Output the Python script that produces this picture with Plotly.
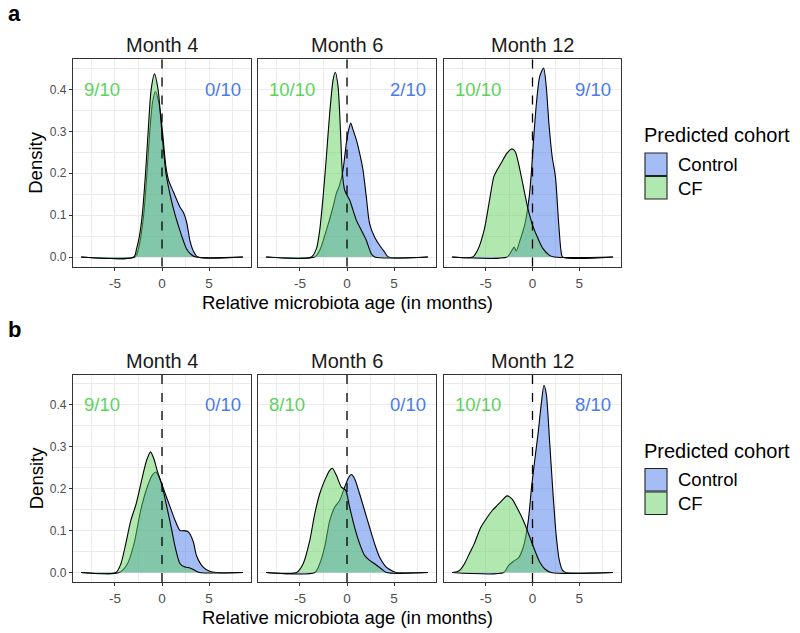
import plotly.graph_objects as go

# ---------------- data ----------------
months = ["Month 4", "Month 6", "Month 12"]
rows = ["a", "b"]
ref_x = 0

cf_counts_a = ["9/10", "10/10", "10/10"]
ctrl_counts_a = ["0/10", "2/10", "9/10"]
cf_counts_b = ["9/10", "8/10", "10/10"]
ctrl_counts_b = ["0/10", "0/10", "8/10"]

# Row a, Month 4
a_m4_ctrl_x = [-8.6, -2.9, -2.5, -1.95, -1.6, -1.3, -1.0, -0.7, -0.35, 0, 0.42, 0.7, 1.22, 1.92, 2.27, 2.62, 2.97, 3.32, 3.8, 8.6]
a_m4_ctrl_y = [0, 0, 0.02, 0.1, 0.2, 0.3, 0.37, 0.395, 0.37, 0.31, 0.215, 0.183, 0.155, 0.119, 0.107, 0.083, 0.039, 0.015, 0, 0]
a_m4_cf_x = [-8.6, -3.0, -2.7, -2.4, -2.1, -1.75, -1.47, -1.15, -0.8, -0.42, 0, 0.42, 0.9, 1.4, 2.1, 2.6, 3.1, 3.6, 8.6]
a_m4_cf_y = [0, 0, 0.02, 0.05, 0.1, 0.2, 0.3, 0.4, 0.437, 0.4, 0.295, 0.2, 0.145, 0.1, 0.05, 0.02, 0.006, 0, 0]

# Row a, Month 6
a_m6_ctrl_x = [-8.6, -3.43, -2.9, -2.19, -1.48, -1.13, -0.78, -0.42, -0.07, 0.18, 0.39, 0.64, 0.99, 1.34, 1.7, 2.05, 2.4, 2.93, 3.46, 3.99, 4.4, 8.6]
a_m6_ctrl_y = [0, 0, 0.016, 0.064, 0.12, 0.152, 0.172, 0.208, 0.272, 0.304, 0.32, 0.304, 0.28, 0.248, 0.208, 0.144, 0.08, 0.048, 0.028, 0.012, 0, 0]
a_m6_cf_x = [-8.6, -3.78, -3.25, -2.9, -2.54, -2.19, -1.84, -1.48, -1.24, -0.95, -0.7, -0.49, -0.25, 0.28, 0.64, 0.99, 1.52, 2.05, 2.58, 2.95, 8.6]
a_m6_cf_y = [0, 0, 0.02, 0.064, 0.144, 0.24, 0.343, 0.423, 0.441, 0.407, 0.304, 0.2, 0.16, 0.136, 0.112, 0.088, 0.064, 0.04, 0.008, 0, 0]

# Row a, Month 12
a_m12_ctrl_x = [-8.6, -2.73, -2.2, -1.96, -1.75, -1.33, -0.8, -0.35, -0.1, 0.14, 0.42, 0.77, 1.19, 1.47, 1.75, 2.1, 2.45, 2.8, 3.04, 3.22, 8.6]
a_m12_ctrl_y = [0, 0, 0.016, 0.024, 0.014, 0.04, 0.08, 0.144, 0.208, 0.288, 0.367, 0.431, 0.451, 0.407, 0.32, 0.24, 0.192, 0.08, 0.016, 0, 0]
a_m12_cf_x = [-8.6, -6.4, -5.87, -5.17, -4.65, -4.13, -3.78, -3.25, -2.73, -2.2, -1.85, -1.5, -0.98, -0.45, 0.07, 0.59, 1.12, 1.82, 2.34, 8.6]
a_m12_cf_y = [0, 0, 0.016, 0.064, 0.128, 0.192, 0.208, 0.228, 0.248, 0.258, 0.252, 0.224, 0.168, 0.112, 0.072, 0.044, 0.02, 0.004, 0, 0]

# Row b, Month 4
b_m4_ctrl_x = [-8.6, -4.55, -3.67, -2.97, -2.27, -1.57, -1.05, -0.63, -0.17, 0.35, 0.87, 1.4, 1.92, 2.35, 2.8, 3.32, 3.67, 4.37, 5.07, 5.77, 8.6]
b_m4_ctrl_y = [0, 0, 0.021, 0.069, 0.148, 0.204, 0.232, 0.24, 0.22, 0.188, 0.156, 0.124, 0.1, 0.1, 0.097, 0.074, 0.04, 0.013, 0.003, 0, 0]
b_m4_cf_x = [-8.6, -4.9, -4.37, -3.85, -3.32, -2.8, -2.45, -1.92, -1.57, -1.22, -0.87, -0.52, 0, 0.52, 1.05, 1.4, 1.92, 2.45, 2.97, 3.5, 4.0, 8.6]
b_m4_cf_y = [0, 0, 0.021, 0.069, 0.124, 0.16, 0.192, 0.244, 0.272, 0.288, 0.272, 0.244, 0.208, 0.156, 0.1, 0.061, 0.021, 0.013, 0.011, 0.005, 0, 0]

# Row b, Month 6
b_m6_ctrl_x = [-8.6, -3.43, -2.9, -2.37, -1.84, -1.31, -0.78, -0.25, 0.11, 0.46, 0.81, 1.34, 1.87, 2.4, 2.93, 3.46, 4.17, 4.88, 5.23, 8.6]
b_m6_ctrl_y = [0, 0, 0.021, 0.061, 0.124, 0.156, 0.172, 0.204, 0.224, 0.234, 0.224, 0.188, 0.148, 0.108, 0.069, 0.037, 0.013, 0.003, 0, 0]
b_m6_cf_x = [-8.6, -5.37, -4.66, -3.96, -3.43, -2.9, -2.37, -1.84, -1.55, -1.13, -0.6, -0.14, 0.28, 0.81, 1.34, 1.87, 2.4, 2.93, 3.64, 4.17, 8.6]
b_m6_cf_y = [0, 0, 0.021, 0.076, 0.14, 0.188, 0.22, 0.244, 0.249, 0.232, 0.204, 0.196, 0.156, 0.108, 0.069, 0.041, 0.029, 0.021, 0.009, 0, 0]

# Row b, Month 12
b_m12_ctrl_x = [-8.6, -3.08, -2.55, -2.03, -1.5, -0.98, -0.45, -0.1, 0.24, 0.59, 0.94, 1.22, 1.47, 1.82, 2.17, 2.52, 2.87, 3.22, 3.57, 8.6]
b_m12_ctrl_y = [0, 0, 0.017, 0.027, 0.035, 0.061, 0.124, 0.204, 0.268, 0.331, 0.403, 0.447, 0.427, 0.316, 0.196, 0.092, 0.029, 0.005, 0, 0]
b_m12_cf_x = [-8.6, -8.5, -7.8, -7.27, -6.75, -6.22, -5.52, -4.83, -4.3, -3.78, -3.25, -2.73, -2.2, -1.68, -0.98, -0.28, 0.24, 0.77, 1.29, 2.0, 8.6]
b_m12_cf_y = [0, 0, 0.005, 0.021, 0.045, 0.069, 0.108, 0.132, 0.148, 0.16, 0.172, 0.183, 0.176, 0.156, 0.124, 0.084, 0.053, 0.025, 0.009, 0, 0]

ctrl_x = [[a_m4_ctrl_x, a_m6_ctrl_x, a_m12_ctrl_x], [b_m4_ctrl_x, b_m6_ctrl_x, b_m12_ctrl_x]]
ctrl_y = [[a_m4_ctrl_y, a_m6_ctrl_y, a_m12_ctrl_y], [b_m4_ctrl_y, b_m6_ctrl_y, b_m12_ctrl_y]]
cf_x = [[a_m4_cf_x, a_m6_cf_x, a_m12_cf_x], [b_m4_cf_x, b_m6_cf_x, b_m12_cf_x]]
cf_y = [[a_m4_cf_y, a_m6_cf_y, a_m12_cf_y], [b_m4_cf_y, b_m6_cf_y, b_m12_cf_y]]
cf_counts = [cf_counts_a, cf_counts_b]
ctrl_counts = [ctrl_counts_a, ctrl_counts_b]

x_ticks = [-5, 0, 5]
x_tick_labels = ["-5", "0", "5"]
y_ticks = [0, 0.1, 0.2, 0.3, 0.4]
y_tick_labels = ["0.0", "0.1", "0.2", "0.3", "0.4"]
legend_title = "Predicted cohort"
legend_labels = ["Control", "CF"]

# ---------------- style ----------------
W, H = 800, 633
FONT = "Liberation Sans, Arial, Helvetica, sans-serif"
CTRL_COLOR = "#497BEB"
CF_COLOR = "#5CD35C"
CTRL_FILL = "rgba(73,123,235,0.5)"
CF_FILL = "rgba(97,209,97,0.5)"
GRID = "#ebebeb"
BORDER = "#333333"

col_px = [(73, 251), (258, 436), (444, 621)]
row_px = [(59, 266.5), (374.5, 582)]
row_offset = [0, 315.5]
XR = [-9.46, 9.46]
YR = [-0.0226, 0.4726]


def px_x(p):
    return p / W


def px_y(p):
    return 1 - p / H


fig = go.Figure()
layout = {}
shapes = []
annotations = []

for r in range(2):
    for c in range(3):
        i = r * 3 + c + 1
        xa = "x" if i == 1 else f"x{i}"
        ya = "y" if i == 1 else f"y{i}"
        fig.add_trace(go.Scatter(
            x=ctrl_x[r][c], y=ctrl_y[r][c], xaxis=xa, yaxis=ya,
            mode="lines", fill="tozeroy", fillcolor=CTRL_FILL,
            line=dict(color="black", width=1.1, shape="spline", smoothing=0.7),
            showlegend=False, hoverinfo="skip"))
        fig.add_trace(go.Scatter(
            x=cf_x[r][c], y=cf_y[r][c], xaxis=xa, yaxis=ya,
            mode="lines", fill="tozeroy", fillcolor=CF_FILL,
            line=dict(color="black", width=1.1, shape="spline", smoothing=0.7),
            showlegend=False, hoverinfo="skip"))
        x0, x1 = col_px[c]
        y0, y1 = row_px[r]
        layout["xaxis" if i == 1 else f"xaxis{i}"] = dict(
            domain=[px_x(x0), px_x(x1)], anchor=ya, range=XR,
            tickvals=x_ticks, ticktext=x_tick_labels,
            showgrid=True, gridcolor=GRID, gridwidth=1,
            minor=dict(tickvals=[-7.5, -2.5, 2.5, 7.5], showgrid=True, gridcolor=GRID, gridwidth=0.6, ticks=""),
            zeroline=False, showline=True, mirror=True, linecolor=BORDER, linewidth=1.2,
            ticks="outside", ticklen=3, tickcolor=BORDER, tickwidth=1, ticklabelstandoff=1,
            tickfont=dict(family=FONT, size=13.5, color="#4d4d4d"), fixedrange=True)
        layout["yaxis" if i == 1 else f"yaxis{i}"] = dict(
            domain=[px_y(y1), px_y(y0)], anchor=xa, range=YR,
            tickvals=y_ticks, ticktext=y_tick_labels, showticklabels=(c == 0),
            showgrid=True, gridcolor=GRID, gridwidth=1,
            minor=dict(tickvals=[0.05, 0.15, 0.25, 0.35, 0.45], showgrid=True, gridcolor=GRID, gridwidth=0.6, ticks=""),
            zeroline=False, showline=True, mirror=True, linecolor=BORDER, linewidth=1.2,
            ticks="outside" if c == 0 else "", ticklen=3, tickcolor=BORDER, tickwidth=1,
            tickfont=dict(family=FONT, size=12, color="#4d4d4d"), fixedrange=True)
        # reference line
        shapes.append(dict(type="line", xref=xa, yref=f"{ya} domain", x0=ref_x, x1=ref_x, y0=0, y1=1,
                           line=dict(color="black", width=1.3, dash="dash")))
        # count labels
        annotations.append(dict(x=-8.5, y=0.4, xref=xa, yref=ya, text=cf_counts[r][c], showarrow=False,
                                xanchor="left", yanchor="middle",
                                font=dict(family=FONT, size=18.5, color=CF_COLOR)))
        annotations.append(dict(x=8.6, y=0.4, xref=xa, yref=ya, text=ctrl_counts[r][c], showarrow=False,
                                xanchor="right", yanchor="middle",
                                font=dict(family=FONT, size=18.5, color=CTRL_COLOR)))
        # strip title
        annotations.append(dict(x=px_x((x0 + x1) / 2), y=px_y(45 + row_offset[r]), xref="paper", yref="paper",
                                text=months[c], showarrow=False, xanchor="center", yanchor="middle",
                                font=dict(family=FONT, size=20, color="#1a1a1a")))
    off = row_offset[r]
    # panel letter
    annotations.append(dict(x=px_x(6), y=px_y(14 + off), xref="paper", yref="paper", text=f"<b>{rows[r]}</b>",
                            showarrow=False, xanchor="left", yanchor="middle",
                            font=dict(family=FONT, size=22, color="black")))
    # axis titles
    annotations.append(dict(x=px_x(36), y=px_y((row_px[r][0] + row_px[r][1]) / 2), xref="paper", yref="paper",
                            text="Density", textangle=-90, showarrow=False, xanchor="center", yanchor="middle",
                            font=dict(family=FONT, size=18.5, color="black")))
    annotations.append(dict(x=px_x(347), y=px_y(302 + off), xref="paper", yref="paper",
                            text="Relative microbiota age (in months)", showarrow=False,
                            xanchor="center", yanchor="middle", borderpad=0,
                            font=dict(family=FONT, size=18.5, color="black")))
    # legend
    annotations.append(dict(x=px_x(642), y=px_y(135 + off), xref="paper", yref="paper", text=legend_title,
                            showarrow=False, xanchor="left", yanchor="middle",
                            font=dict(family=FONT, size=20, color="black")))
    for k, (lab, fc) in enumerate(zip(legend_labels, [CTRL_FILL, CF_FILL])):
        top = 153 + off + k * 23.5
        shapes.append(dict(type="rect", xref="paper", yref="paper",
                           x0=px_x(645), x1=px_x(667), y0=px_y(top + 22.5), y1=px_y(top),
                           fillcolor=fc, line=dict(color="#222222", width=1.1)))
        annotations.append(dict(x=px_x(676), y=px_y(top + 11.5), xref="paper", yref="paper", text=lab,
                                showarrow=False, xanchor="left", yanchor="middle",
                                font=dict(family=FONT, size=18.5, color="black")))

fig.update_layout(**layout)
fig.update_layout(
    width=W, height=H, margin=dict(l=0, r=0, t=0, b=0),
    paper_bgcolor="white", plot_bgcolor="white",
    shapes=shapes, annotations=annotations, showlegend=False,
    font=dict(family=FONT))

fig.write_html("out.html", config={"displayModeBar": False},
               post_script="document.body.style.margin='0';")
